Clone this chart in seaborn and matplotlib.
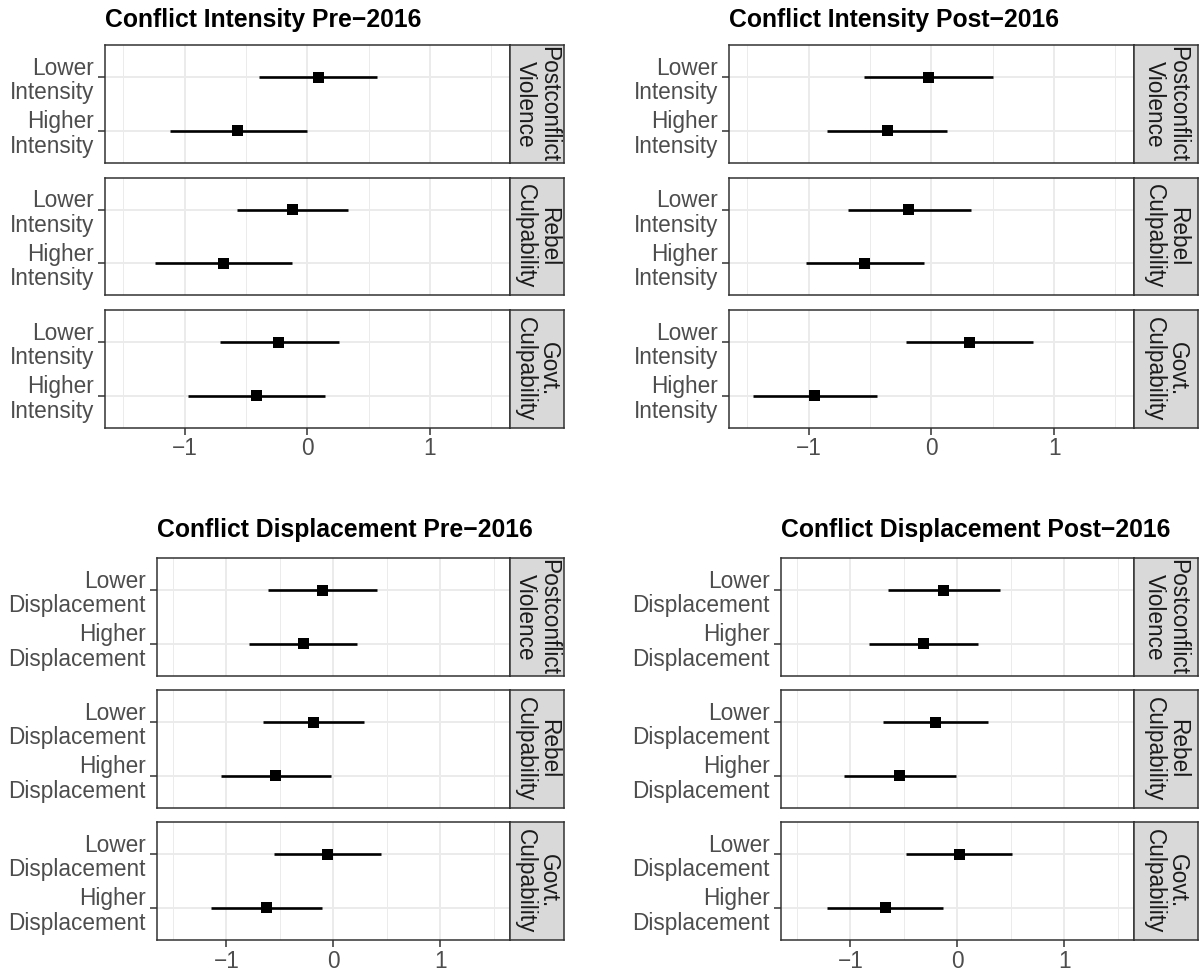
import matplotlib
matplotlib.use("Agg")
import matplotlib.pyplot as plt
import seaborn as sns
import pandas as pd

# ---------------- data ----------------
outcomes = ["Postconflict\nViolence", "Rebel\nCulpability", "Govt.\nCulpability"]
levels = ["Lower", "Higher"]

titles = ["Conflict Intensity Pre\u22122016", "Conflict Intensity Post\u22122016",
          "Conflict Displacement Pre\u22122016", "Conflict Displacement Post\u22122016"]
level_words = ["Intensity", "Intensity", "Displacement", "Displacement"]

# order: (Postconflict Lower, Higher), (Rebel Lower, Higher), (Govt Lower, Higher)
int_pre_est = [0.088, -0.566, -0.117, -0.680, -0.232, -0.418]
int_pre_lo = [-0.390, -1.120, -0.574, -1.243, -0.713, -0.970]
int_pre_hi = [0.570, 0.000, 0.336, -0.123, 0.260, 0.142]

int_post_est = [-0.027, -0.360, -0.183, -0.543, 0.308, -0.953]
int_post_lo = [-0.550, -0.850, -0.680, -1.020, -0.205, -1.456]
int_post_hi = [0.500, 0.125, 0.325, -0.057, 0.826, -0.440]

disp_pre_est = [-0.104, -0.283, -0.189, -0.538, -0.057, -0.629]
disp_pre_lo = [-0.607, -0.786, -0.660, -1.050, -0.557, -1.142]
disp_pre_hi = [0.409, 0.220, 0.289, -0.025, 0.447, -0.110]

disp_post_est = [-0.128, -0.316, -0.206, -0.544, 0.019, -0.675]
disp_post_lo = [-0.650, -0.828, -0.697, -1.063, -0.478, -1.216]
disp_post_hi = [0.403, 0.197, 0.284, -0.016, 0.513, -0.138]

x_ticks = [-1, 0, 1]
x_minor = [-1.5, -0.5, 0.5, 1.5]

panel_data = [
    (int_pre_est, int_pre_lo, int_pre_hi),
    (int_post_est, int_post_lo, int_post_hi),
    (disp_pre_est, disp_pre_lo, disp_pre_hi),
    (disp_post_est, disp_post_lo, disp_post_hi),
]

# ---------------- style ----------------
sns.set_theme(style="white")
plt.rcParams["font.family"] = ["Liberation Sans", "DejaVu Sans"]

W, H = 1200, 973
fig = plt.figure(figsize=(W / 100, H / 100), dpi=100)
fig.patch.set_facecolor("white")


def px_axes(x0, y0, x1, y1):
    return fig.add_axes([x0 / W, 1 - y1 / H, (x1 - x0) / W, (y1 - y0) / H])


# layout in pixels: (panel left, panel right, strip right, facet tops, title y)
facet_h = 117.7
layouts = [
    (105, 509.6, 564, [45, 177.7, 310], 20),
    (729, 1133.8, 1198, [45, 177.7, 310], 20),
    (157, 509.6, 564, [558, 690, 822.3], 530),
    (781, 1133.8, 1198, [558, 690, 822.3], 530),
]

border_col = "#333333"
text_col = "#4D4D4D"
grid_major = "#EBEBEB"
FS = 16.3

for p, (est, lo, hi) in enumerate(panel_data):
    df = pd.DataFrame({
        "outcome": [o for o in outcomes for _ in levels],
        "level": [f"{l}\n{level_words[p]}" for _ in outcomes for l in levels],
        "pos": [i for _ in outcomes for i in range(len(levels))],
        "est": est, "lo": lo, "hi": hi,
    })
    x0, x1, xs, tops, ty = layouts[p]
    fig.text(x0 / W, 1 - ty / H, titles[p], ha="left", va="center",
             fontsize=17.8, fontweight="bold", color="black")
    for f, outc in enumerate(outcomes):
        sub = df[df["outcome"] == outc]
        top = tops[f]
        ax = px_axes(x0, top, x1, top + facet_h)
        ax.set_facecolor("white")
        # grid
        for v in x_ticks:
            ax.axvline(v, color=grid_major, lw=1.4, zorder=0)
        for v in x_minor:
            ax.axvline(v, color=grid_major, lw=0.7, zorder=0)
        for v in sub["pos"]:
            ax.axhline(v, color=grid_major, lw=1.4, zorder=0)
        ax.hlines(sub["pos"], sub["lo"], sub["hi"], color="black", lw=1.9, zorder=2)
        sns.scatterplot(data=sub, x="est", y="pos", marker="s", color="black",
                        s=62, edgecolor="none", linewidth=0, ax=ax, zorder=3, legend=False)
        ax.set_xlim(-1.65, 1.65)
        ax.set_ylim(len(levels) - 1 + 0.6, -0.6)
        ax.set_yticks(list(sub["pos"]))
        ax.set_yticklabels(list(sub["level"]), fontsize=FS, color=text_col,
                           linespacing=1.08)
        ax.set_xticks(x_ticks)
        ax.set_xlabel("")
        ax.set_ylabel("")
        ax.grid(False)
        for s in ax.spines.values():
            s.set_color(border_col)
            s.set_linewidth(1.1)
            s.set_visible(True)
        ax.tick_params(axis="y", length=5, width=1.1, color=border_col, pad=3,
                       left=True)
        if f == len(outcomes) - 1:
            ax.set_xticklabels([f"{t}".replace("-", "\u2212") for t in x_ticks],
                               fontsize=FS, color=text_col)
            ax.tick_params(axis="x", length=5, width=1.1, color=border_col, pad=2,
                           bottom=True)
        else:
            ax.tick_params(axis="x", bottom=False, labelbottom=False)
        # strip
        sax = px_axes(x1, top, xs, top + facet_h)
        sax.set_facecolor("#D9D9D9")
        sax.set_xticks([])
        sax.set_yticks([])
        for s in sax.spines.values():
            s.set_color(border_col)
            s.set_linewidth(1.1)
        sax.text(0.5, 0.5, outc, rotation=-90, ha="center", va="center",
                 fontsize=FS, color="#1A1A1A", linespacing=1.0,
                 transform=sax.transAxes, clip_on=True)

fig.savefig("out.png", dpi=100, facecolor="white")
